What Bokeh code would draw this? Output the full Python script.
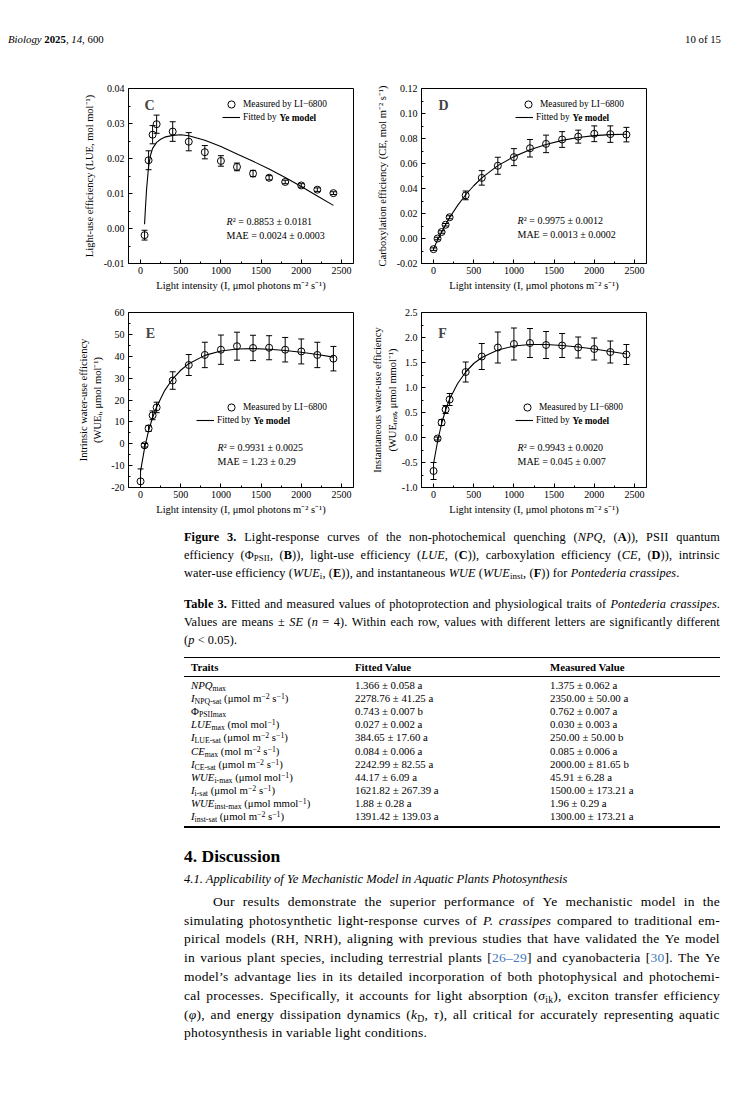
from bokeh.plotting import figure
from bokeh.models import (ColumnDataSource, FixedTicker, PrintfTickFormatter, Label,
                          Legend, LegendItem, Div, Range1d)
from bokeh.layouts import column, row
from bokeh.embed import file_html
from bokeh.resources import INLINE

SERIF = "Liberation Serif"

# ---------------- data ----------------
light = [0, 50, 100, 150, 200, 400, 600, 800, 1000, 1200, 1400, 1600, 1800, 2000, 2200, 2400]
light_lue = [50, 100, 150, 200, 400, 600, 800, 1000, 1200, 1400, 1600, 1800, 2000, 2200, 2400]

lue = [-0.0019, 0.0195, 0.0268, 0.0298, 0.0277, 0.0248, 0.0218, 0.0193, 0.0176, 0.0157,
       0.0145, 0.0133, 0.0123, 0.0111, 0.0101]
lue_se = [0.0014, 0.0027, 0.0026, 0.0026, 0.0028, 0.0026, 0.0019, 0.0015, 0.0011, 0.0009,
          0.0006, 0.0005, 0.0005, 0.0005, 0.0004]

ce = [-0.0085, 0.0000, 0.0052, 0.0110, 0.0170, 0.0345, 0.0485, 0.0582, 0.0651, 0.0722,
      0.0757, 0.0792, 0.0815, 0.0838, 0.0835, 0.0831]
ce_se = [0.0010, 0.0010, 0.0010, 0.0010, 0.0012, 0.0035, 0.0058, 0.0068, 0.0068, 0.0070,
         0.0070, 0.0063, 0.0052, 0.0063, 0.0066, 0.0058]

wue_i = [-17.2, -0.7, 7.0, 13.0, 16.6, 28.9, 36.0, 40.6, 43.0, 44.6, 43.8, 43.9, 43.0, 42.2, 40.6, 38.9]
wue_i_se = [5.7, 0.8, 1.4, 2.0, 2.4, 4.0, 4.8, 5.8, 6.7, 6.4, 5.8, 5.5, 5.6, 5.7, 5.8, 5.6]

wue_inst = [-0.67, -0.02, 0.30, 0.56, 0.76, 1.31, 1.62, 1.80, 1.87, 1.89, 1.85, 1.84, 1.80, 1.77, 1.71, 1.66]
wue_inst_se = [0.17, 0.03, 0.06, 0.08, 0.12, 0.20, 0.26, 0.31, 0.32, 0.29, 0.27, 0.24, 0.21, 0.22, 0.22, 0.20]

fit_light_lue = [50, 60, 75, 100, 125, 150, 200, 250, 300, 400, 500, 600, 800, 1000, 1200,
                 1400, 1600, 1800, 2000, 2200, 2400]
fit_lue = [0.0012, 0.0055, 0.0112, 0.0178, 0.0210, 0.0229, 0.0246, 0.0255, 0.0261, 0.0266,
           0.0268, 0.0265, 0.0252, 0.0234, 0.0213, 0.0192, 0.0170, 0.0146, 0.0120, 0.0093, 0.0066]

fit_light = [0, 50, 100, 150, 200, 300, 400, 500, 600, 800, 1000, 1200, 1400, 1600, 1800, 2000, 2200, 2400]
fit_ce = [-0.0082, -0.0012, 0.0050, 0.0110, 0.0168, 0.0265, 0.0350, 0.0422, 0.0485, 0.0583,
          0.0655, 0.0710, 0.0752, 0.0785, 0.0808, 0.0823, 0.0831, 0.0834]
fit_wue_i = [-12.5, -2.0, 6.0, 12.0, 16.8, 24.3, 29.7, 33.6, 36.6, 40.4, 42.4, 43.3, 43.5,
             43.2, 42.6, 41.8, 40.8, 39.6]
fit_wue_inst = [-0.52, -0.08, 0.28, 0.55, 0.77, 1.08, 1.31, 1.48, 1.60, 1.75, 1.83, 1.86, 1.86,
                1.84, 1.81, 1.77, 1.72, 1.67]

x_ticks = [0, 500, 1000, 1500, 2000, 2500]
x_minor = [250, 750, 1250, 1750, 2250]

stats_c = ["0.8853 ± 0.0181", "0.0024 ± 0.0003"]
stats_d = ["0.9975 ± 0.0012", "0.0013 ± 0.0002"]
stats_e = ["0.9931 ± 0.0025", "1.23 ± 0.29"]
stats_f = ["0.9943 ± 0.0020", "0.045 ± 0.007"]

traits = ["<i>NPQ</i><sub>max</sub>",
          "<i>I</i><sub>NPQ-sat</sub> (μmol m<sup>−2</sup> s<sup>−1</sup>)",
          "Φ<sub>PSIImax</sub>",
          "<i>LUE</i><sub>max</sub> (mol mol<sup>−1</sup>)",
          "<i>I</i><sub>LUE-sat</sub> (μmol m<sup>−2</sup> s<sup>−1</sup>)",
          "<i>CE</i><sub>max</sub> (mol m<sup>−2</sup> s<sup>−1</sup>)",
          "<i>I</i><sub>CE-sat</sub> (μmol m<sup>−2</sup> s<sup>−1</sup>)",
          "<i>WUE</i><sub>i-max</sub> (μmol mol<sup>−1</sup>)",
          "<i>I</i><sub>i-sat</sub> (μmol m<sup>−2</sup> s<sup>−1</sup>)",
          "<i>WUE</i><sub>inst-max</sub> (μmol mmol<sup>−1</sup>)",
          "<i>I</i><sub>inst-sat</sub> (μmol m<sup>−2</sup> s<sup>−1</sup>)"]
fitted_vals = ["1.366 ± 0.058 a", "2278.76 ± 41.25 a", "0.743 ± 0.007 b", "0.027 ± 0.002 a",
               "384.65 ± 17.60 a", "0.084 ± 0.006 a", "2242.99 ± 82.55 a", "44.17 ± 6.09 a",
               "1621.82 ± 267.39 a", "1.88 ± 0.28 a", "1391.42 ± 139.03 a"]
measured_vals = ["1.375 ± 0.062 a", "2350.00 ± 50.00 a", "0.762 ± 0.007 a", "0.030 ± 0.003 a",
                 "250.00 ± 50.00 b", "0.085 ± 0.006 a", "2000.00 ± 81.65 b", "45.91 ± 6.28 a",
                 "1500.00 ± 173.21 a", "1.96 ± 0.29 a", "1300.00 ± 173.21 a"]


# ---------------- panels ----------------
def panel(letter, xs, ys, se, fx, fy, yr, yticks, yminor, yfmt, ylabel, stats,
          width, height, bl, br, bt, ylab_standoff, letter_xy, leg1, leg2, stat_xy,
          ylab_lh=1.2):
    p = figure(width=width, height=height, x_range=Range1d(-150, 2650), y_range=Range1d(*yr),
               output_backend="svg", toolbar_location=None,
               min_border_left=bl, min_border_right=br, min_border_top=bt, min_border_bottom=35)
    p.xgrid.visible = False
    p.ygrid.visible = False
    p.outline_line_color = "black"
    p.outline_line_width = 1
    p.background_fill_color = "white"
    p.border_fill_color = "white"

    p.xaxis.ticker = FixedTicker(ticks=x_ticks, minor_ticks=x_minor)
    p.yaxis.ticker = FixedTicker(ticks=yticks, minor_ticks=yminor)
    p.xaxis.formatter = PrintfTickFormatter(format="%d")
    p.yaxis.formatter = PrintfTickFormatter(format=yfmt)
    p.xaxis.axis_label = "Light intensity (I, μmol photons m⁻² s⁻¹)"
    p.yaxis.axis_label = ylabel
    for ax in (p.xaxis[0], p.yaxis[0]):
        ax.axis_line_color = "black"
        ax.major_tick_line_color = "black"
        ax.minor_tick_line_color = "black"
        ax.major_tick_in = 4
        ax.major_tick_out = 0
        ax.minor_tick_in = 2
        ax.minor_tick_out = 0
        ax.major_label_standoff = 4
        ax.major_label_text_font = SERIF
        ax.major_label_text_font_size = "10px"
        ax.major_label_text_color = "black"
        ax.axis_label_text_font = SERIF
        ax.axis_label_text_font_size = "10.5px"
        ax.axis_label_text_font_style = "normal"
        ax.axis_label_text_color = "black"
    p.xaxis.major_label_standoff = 3
    p.xaxis.axis_label_standoff = 3
    p.yaxis.axis_label_standoff = ylab_standoff
    p.yaxis.axis_label_text_line_height = ylab_lh

    lower = [a - b for a, b in zip(ys, se)]
    upper = [a + b for a, b in zip(ys, se)]
    src = ColumnDataSource(dict(x=xs, y=ys, lo=lower, hi=upper))
    p.segment(x0="x", y0="lo", x1="x", y1="hi", source=src, line_color="black", line_width=1)
    p.scatter(x="x", y="lo", source=src, marker="dash", size=6, line_color="black", line_width=1)
    p.scatter(x="x", y="hi", source=src, marker="dash", size=6, line_color="black", line_width=1)
    fit_r = p.line(fx, fy, line_color="black", line_width=1.1)
    pts = p.scatter(x="x", y="y", source=src, marker="circle", size=7, fill_color=None,
                    line_color="black", line_width=1)

    common = dict(orientation="vertical", padding=0, margin=0, spacing=0, glyph_width=18,
                  glyph_height=18, label_height=18, label_standoff=3, label_text_font=SERIF,
                  label_text_font_size="9.4px", label_text_color="black", border_line_alpha=0,
                  background_fill_alpha=0)
    l1 = Legend(items=[LegendItem(label="Measured by LI−6800", renderers=[pts])],
                location=(leg1[0], leg1[1] - 9), **common)
    l2 = Legend(items=[LegendItem(label="Fitted by", renderers=[fit_r])],
                location=(leg2[0], leg2[1] - 9), **common)
    p.add_layout(l1)
    p.add_layout(l2)
    lab = dict(x_units="screen", y_units="screen", text_font=SERIF, text_font_size="9.4px",
               text_color="black", text_baseline="middle")
    p.add_layout(Label(x=leg2[0] + 21 + 36, y=leg2[1], text="Ye model", text_font_style="bold", **lab))

    p.add_layout(Label(x=letter_xy[0], y=letter_xy[1], text=letter, x_units="screen",
                       y_units="screen", text_font=SERIF, text_font_size="14px",
                       text_font_style="bold", text_align="center", text_baseline="middle"))
    sx, sy1, sy2 = stat_xy
    st = dict(lab)
    st["text_font_size"] = "10px"
    p.add_layout(Label(x=sx, y=sy1, text="R", text_font_style="italic", **st))
    p.add_layout(Label(x=sx + 6.3, y=sy1, text="² = " + stats[0], **st))
    p.add_layout(Label(x=sx, y=sy2, text="MAE = " + stats[1], **st))
    return p


pC = panel("C", light_lue, lue, lue_se, fit_light_lue, fit_lue, (-0.01, 0.04),
           [-0.01, 0.0, 0.01, 0.02, 0.03, 0.04], [-0.005, 0.005, 0.015, 0.025, 0.035], "%.2f",
           "Light-use efficiency (LUE, mol mol⁻¹)", stats_c,
           354, 250, 120, 9, 40, 6, (21, 158), (94, 159), (94, 146), (98, 42, 28))
pD = panel("D", light, ce, ce_se, fit_light, fit_ce, (-0.02, 0.12),
           [-0.02, 0.0, 0.02, 0.04, 0.06, 0.08, 0.10, 0.12],
           [-0.01, 0.01, 0.03, 0.05, 0.07, 0.09, 0.11], "%.2f",
           "Carboxylation efficiency (CE, mol m⁻² s⁻¹)", stats_d,
           374, 250, 59, 90, 40, 6, (22, 158), (98, 159), (94, 146), (96, 43, 29))
pE = panel("E", light, wue_i, wue_i_se, fit_light, fit_wue_i, (-20, 60),
           [-20, -10, 0, 10, 20, 30, 40, 50, 60], [-15, -5, 5, 15, 25, 35, 45, 55], "%d",
           "Intrinsic water-use efficiency\n(WUEᵢ, μmol mol⁻¹)", stats_e,
           354, 224, 120, 9, 14, 5, (22, 154), (94, 80), (68, 67), (89, 40, 26), ylab_lh=1.3)
pF = panel("F", light, wue_inst, wue_inst_se, fit_light, fit_wue_inst, (-1.0, 2.5),
           [-1.0, -0.5, 0.0, 0.5, 1.0, 1.5, 2.0, 2.5],
           [-0.75, -0.25, 0.25, 0.75, 1.25, 1.75, 2.25], "%.1f",
           "Instantaneous water-use efficiency\n(WUEᵢₙₛₜ, μmol mmol⁻¹)", stats_f,
           374, 224, 59, 90, 14, 1, (21, 154), (97, 80), (94, 67), (96, 40, 26), ylab_lh=1.3)

# ---------------- text blocks ----------------
CSS = """<style>
.pg{position:relative;overflow:hidden;font-family:'Liberation Serif','Times New Roman',serif;color:#000;}
.ln{position:absolute;white-space:nowrap;}
.j{display:flex;justify-content:space-between;}
sub{font-size:0.72em;vertical-align:-0.28em;line-height:0;}
sup{font-size:0.72em;vertical-align:0.45em;line-height:0;}
lk{color:#3f78bd;}
.rule{position:absolute;background:#000;}
</style>"""


def ln(html, left, yc, size, width=None, justify=False, lh=16, extra=""):
    top = yc - lh / 2
    w = f"width:{width}px;" if width else ""
    if justify:
        inner = "".join(f"<span>{wd}</span>" for wd in html.split(" "))
        cls = "ln j"
    else:
        inner = html
        cls = "ln"
    return (f'<div class="{cls}" style="left:{left}px;top:{top}px;{w}height:{lh}px;'
            f'line-height:{lh}px;font-size:{size}px;{extra}">{inner}</div>')


header_html = (CSS + '<div class="pg" style="width:728px;height:40px;">'
               + ln("<i>Biology</i> <b>2025</b>, <i>14</i>, 600", 0, 31, 10.8)
               + ln("10 of 15", 600, 31, 10.8, width=113, extra="text-align:right;")
               + "</div>")
header = Div(text=header_html, width=728, height=40, margin=0)

L, W = 176, 536
CAP = "letter-spacing:0.1px;"
PAR = "letter-spacing:0.25px;"
parts = [CSS, '<div class="pg" style="width:728px;height:572px;">']
cap = [
    "<b>Figure</b> <b>3.</b> Light-response curves of the non-photochemical quenching (<i>NPQ</i>, (<b>A</b>)), PSII quantum",
    "efficiency (Φ<sub>PSII</sub>, (<b>B</b>)), light-use efficiency (<i>LUE</i>, (<b>C</b>)), carboxylation efficiency (<i>CE</i>, (<b>D</b>)), intrinsic",
    "water-use efficiency (<i>WUE</i><sub>i</sub>, (<b>E</b>)), and instantaneous <i>WUE</i> (<i>WUE</i><sub>inst</sub>, (<b>F</b>)) for <i>Pontederia crassipes</i>.",
]
for k, t in enumerate(cap):
    parts.append(ln(t, L, 15 + 18 * k, 12.3, width=W, justify=(k < 2), extra=CAP))
tcap = [
    "<b>Table</b> <b>3.</b> Fitted and measured values of photoprotection and physiological traits of <i>Pontederia</i> <i>crassipes</i>.",
    "Values are means ± <i>SE</i> (<i>n</i> = 4). Within each row, values with different letters are significantly different",
    "(<i>p</i> &lt; 0.05).",
]
for k, t in enumerate(tcap):
    parts.append(ln(t, L, 82 + 18 * k, 12.3, width=W, justify=(k < 2), extra=CAP))

parts.append(f'<div class="rule" style="left:{L}px;top:135px;width:{W}px;height:1px;"></div>')
parts.append(f'<div class="rule" style="left:{L}px;top:154px;width:{W}px;height:0.8px;"></div>')
parts.append(f'<div class="rule" style="left:{L}px;top:304px;width:{W}px;height:1.5px;"></div>')
cols = [183, 347, 542]
for c, h in zip(cols, ["Traits", "Fitted Value", "Measured Value"]):
    parts.append(ln(f"<b>{h}</b>", c, 145, 10.8, lh=13))
for k in range(len(traits)):
    yc = 163.3 + 13.15 * k
    parts.append(ln(traits[k], cols[0], yc, 10.8, lh=13))
    parts.append(ln(fitted_vals[k], cols[1], yc, 10.8, lh=13))
    parts.append(ln(measured_vals[k], cols[2], yc, 10.8, lh=13))

parts.append(ln("<b>4. Discussion</b>", L, 334, 17.5, lh=20))
parts.append(ln("<i>4.1. Applicability of Ye Mechanistic Model in Aquatic Plants Photosynthesis</i>", L, 357, 12.6, lh=18))
para = [
    "Our results demonstrate the superior performance of Ye mechanistic model in the",
    "simulating photosynthetic light-response curves of <i>P.</i> <i>crassipes</i> compared to traditional em-",
    "pirical models (RH, NRH), aligning with previous studies that have validated the Ye model",
    "in various plant species, including terrestrial plants [<lk>26–29</lk>] and cyanobacteria [<lk>30</lk>]. The Ye",
    "model’s advantage lies in its detailed incorporation of both photophysical and photochemi-",
    "cal processes. Specifically, it accounts for light absorption (<i>σ</i><sub>ik</sub>), exciton transfer efficiency",
    "(<i>φ</i>), and energy dissipation dynamics (<i>k</i><sub>D</sub>, <i>τ</i>), all critical for accurately representing aquatic",
    "photosynthesis in variable light conditions.",
]
for k, t in enumerate(para):
    left = L + 29 if k == 0 else L
    width = W - 29 if k == 0 else W
    parts.append(ln(t, left, 379.7 + 18.8 * k, 13.5, width=width, justify=(k < 7), lh=18, extra=PAR))
parts.append("</div>")
lower = Div(text="".join(parts), width=728, height=572, margin=0)

layout = column(header, row(pC, pD, spacing=0), row(pE, pF, spacing=0), lower,
                spacing=0, margin=(8, 8, 8, 8))
open("out.html", "w").write(file_html(layout, INLINE))
